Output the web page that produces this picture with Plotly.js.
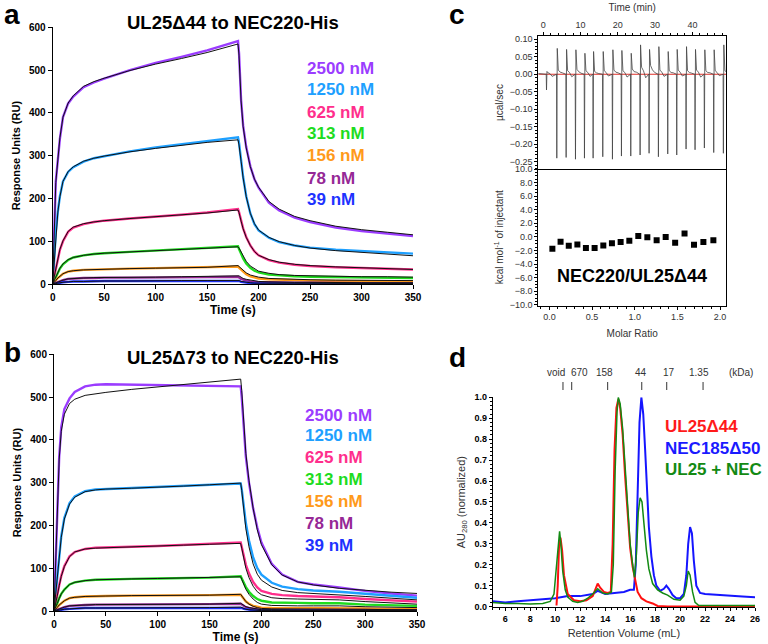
<!DOCTYPE html>
<html>
<head>
<meta charset="utf-8">
<script src="https://cdn.plot.ly/plotly-3.0.1.min.js"></script>
<style>
  body { margin: 0; background: #fff; }
  #fig { width: 768px; height: 644px; }
</style>
</head>
<body>
<div id="fig"></div>
<script>
// ---- SPR sensorgrams (panels a, b): common time grid, seconds ----
const T = [0, 1, 2, 3, 5, 7, 10, 15, 20, 30, 40, 50, 75, 100, 125, 150, 180, 181, 183, 185, 188, 192, 196, 200, 210, 220, 235, 250, 275, 300, 325, 350];

const concLabels = ['2500 nM', '1250 nM', '625 nM', '313 nM', '156 nM', '78 nM', '39 nM'];
const concColors = ['#9b3cff', '#1ea0ff', '#ff2e8c', '#1edc1e', '#ff9a1a', '#962896', '#1e32ff'];

// panel a: UL25d44 -> NEC220-His (measured, fit)
const a2500 = [0, 100, 180, 240, 290, 340, 390, 422, 438, 460, 471, 480, 500, 517, 531, 546, 568, 540, 430, 370, 320, 275, 245, 225, 190, 172, 155, 145, 132, 124, 118, 112];
const a2500fit = [0, 95, 175, 237, 290, 342, 390, 423, 440, 462, 473, 481, 499, 514, 527, 541, 561, 535, 428, 368, 318, 274, 245, 226, 193, 175, 158, 148, 135, 127, 121, 115];
const a1250 = [0, 40, 80, 120, 170, 205, 240, 262, 273, 286, 294, 299, 310, 319, 327, 334, 343, 330, 290, 250, 205, 165, 140, 125, 108, 98, 90, 85, 80, 77, 74, 71];
const a1250fit = [0, 38, 78, 118, 168, 204, 240, 263, 274, 287, 294, 299, 309, 317, 324, 331, 337, 325, 287, 248, 204, 165, 141, 126, 109, 99, 90, 84, 78, 74, 70, 66];
const a625 = [0, 12, 25, 38, 60, 80, 100, 122, 132, 140, 145, 148, 153, 157, 162, 167, 175, 168, 148, 130, 110, 90, 76, 67, 56, 50, 45, 42, 39, 37, 35, 34];
const a625fit = [0, 11, 24, 37, 60, 81, 101, 123, 133, 141, 145, 148, 153, 157, 161, 166, 173, 167, 147, 129, 109, 90, 76, 67, 57, 51, 46, 43, 40, 38, 36, 34];
const a313 = [0, 5, 10, 16, 26, 36, 46, 56, 62, 67, 70, 72, 75, 78, 81, 84, 88, 82, 70, 60, 48, 38, 31, 27, 22, 20, 18, 17, 16, 15, 15, 14];
const a313fit = [0, 5, 10, 16, 27, 37, 47, 57, 62, 67, 70, 72, 75, 78, 81, 84, 87, 84, 74, 64, 53, 42, 35, 30, 25, 22, 20, 19, 18, 17, 17, 16];
const a156 = [0, 2, 5, 8, 14, 19, 24, 29, 31, 33, 34, 35, 36, 37, 38, 39, 41, 38, 33, 28, 23, 18, 15, 13, 11, 10, 9, 8, 7, 7, 6, 6];
const a156fit = [0, 2, 5, 8, 14, 19, 24, 29, 31, 33, 34, 35, 36, 37, 38, 39, 43, 41, 36, 31, 26, 21, 18, 16, 13, 12, 11, 10, 9, 9, 8, 8];
const a78 = [0, 1, 2, 3, 5, 7, 9, 12, 13, 14, 14, 15, 15, 15, 16, 16, 17, 15, 12, 10, 8, 6, 5, 4, 4, 3, 3, 3, 2, 2, 2, 2];
const a78fit = [0, 1, 2, 3, 5, 7, 9, 12, 13, 14, 15, 15, 16, 16, 17, 18, 20, 19, 16, 13, 11, 9, 7, 6, 5, 4, 4, 4, 3, 3, 3, 3];
const a39 = [0, 0, 1, 1, 2, 3, 4, 5, 6, 6, 7, 7, 7, 7, 8, 8, 8, 7, 5, 4, 3, 2, 2, 1, 1, 1, 1, 1, 1, 0, 0, 0];
const a39fit = [0, 0, 1, 1, 2, 3, 4, 5, 6, 6, 7, 7, 7, 8, 8, 8, 9, 8, 6, 5, 4, 3, 2, 2, 1, 1, 1, 1, 1, 1, 1, 1];

// panel b: UL25d73 -> NEC220-His (measured, fit)
const b2500 = [0, 80, 160, 250, 360, 430, 472, 497, 512, 525, 529, 530, 529, 528, 527, 526, 525, 500, 420, 360, 300, 240, 195, 160, 110, 85, 68, 62, 55, 47, 41, 36];
const b2500fit = [0, 80, 160, 248, 355, 420, 460, 485, 495, 504, 508, 511, 518, 524, 530, 535, 542, 515, 430, 368, 305, 240, 190, 155, 108, 84, 68, 61, 53, 48, 44, 41];
const b1250 = [0, 25, 50, 76, 130, 175, 218, 252, 268, 280, 284, 285, 287, 289, 292, 295, 298, 285, 245, 205, 165, 125, 100, 85, 66, 57, 51, 48, 45, 40, 35, 31];
const b1250fit = [0, 24, 48, 74, 128, 172, 215, 250, 266, 279, 283, 285, 287, 289, 292, 295, 299, 282, 235, 192, 150, 110, 86, 72, 56, 48, 43, 41, 39, 34, 30, 26];
const b625 = [0, 10, 22, 35, 60, 82, 105, 128, 138, 145, 148, 149, 150, 152, 154, 156, 160, 150, 128, 108, 88, 68, 55, 47, 40, 37, 35, 34, 32, 28, 25, 22];
const b625fit = [0, 10, 21, 34, 59, 81, 104, 127, 138, 145, 147, 148, 150, 152, 154, 156, 158, 147, 122, 100, 78, 58, 45, 38, 31, 29, 28, 27, 26, 22, 19, 16];
const b313 = [0, 5, 11, 17, 30, 40, 50, 62, 67, 71, 73, 74, 75, 76, 77, 78, 81, 76, 66, 56, 45, 35, 28, 24, 20, 19, 19, 18, 18, 15, 13, 12];
const b313fit = [0, 5, 11, 17, 29, 40, 50, 62, 67, 71, 73, 74, 75, 76, 77, 78, 80, 74, 62, 51, 39, 28, 20, 16, 13, 12, 12, 12, 12, 10, 9, 8];
const b156 = [0, 2, 5, 8, 14, 19, 24, 30, 32, 34, 35, 35, 36, 36, 37, 37, 38, 35, 28, 22, 17, 12, 10, 8, 7, 7, 7, 7, 7, 6, 5, 5];
const b156fit = [0, 2, 5, 8, 14, 19, 24, 30, 32, 34, 35, 35, 36, 36, 37, 37, 39, 36, 29, 22, 16, 11, 8, 6, 5, 5, 5, 5, 4, 4, 3, 3];
const b78 = [0, 1, 2, 3, 5, 7, 9, 12, 13, 14, 15, 15, 15, 16, 16, 16, 17, 15, 12, 9, 7, 5, 4, 3, 3, 2, 2, 2, 2, 2, 2, 2];
const b78fit = [0, 1, 2, 3, 5, 7, 9, 12, 13, 14, 15, 15, 15, 16, 16, 16, 18, 16, 13, 10, 8, 6, 4, 3, 3, 2, 2, 2, 2, 2, 2, 2];
const b39 = [0, 0, 1, 1, 2, 3, 4, 5, 6, 7, 7, 7, 7, 8, 8, 8, 8, 7, 5, 4, 3, 2, 1, 1, 1, 1, 1, 1, 1, 1, 0, 0];
const b39fit = [0, 0, 1, 1, 2, 3, 4, 5, 6, 7, 7, 7, 8, 8, 8, 8, 9, 8, 6, 4, 3, 2, 2, 1, 1, 1, 1, 1, 1, 1, 1, 1];

// ---- ITC (panel c) ----
const injTime = [0.9, 3.66, 6.16, 8.66, 11.07, 13.39, 15.98, 18.57, 20.98, 23.48, 25.98, 28.39, 30.89, 33.39, 35.8, 38.3, 40.71, 43.21, 45.71, 48.3];
const injDown = [-0.045, -0.240, -0.238, -0.243, -0.240, -0.240, -0.236, -0.243, -0.234, -0.234, -0.231, -0.226, -0.236, -0.228, -0.231, -0.214, -0.216, -0.211, -0.224, -0.226];
const injUp = [0.008, 0.074, 0.071, 0.070, 0.060, 0.065, 0.065, 0.070, 0.068, 0.060, 0.084, 0.071, 0.079, 0.065, 0.071, 0.079, 0.071, 0.070, 0.070, 0.084];
const injTail = [0.004, 0.012, 0.010, 0.014, 0.010, 0.008, 0.010, 0.012, 0.010, 0.015, 0.020, 0.025, 0.012, 0.010, 0.012, 0.010, 0.012, 0.010, 0.010, 0.010];
const injGap = [-0.006, 0.004, -0.007, 0.003, -0.006, 0.002, -0.005, 0.004, -0.008, 0.006, -0.010, 0.005, -0.006, 0.004, -0.005, 0.003, -0.008, 0.004, -0.004, 0.002];

const molarRatio = [0.035, 0.131, 0.227, 0.328, 0.428, 0.53, 0.632, 0.733, 0.835, 0.937, 1.042, 1.148, 1.257, 1.363, 1.474, 1.584, 1.695, 1.805, 1.922];
const heatPerInj = [-1.75, -0.7, -1.3, -1.1, -1.65, -1.65, -1.25, -0.95, -0.75, -0.55, 0.15, -0.05, -0.5, 0.0, -0.85, 0.5, -1.15, -0.75, -0.5];

// ---- SEC (panel d) ----
const redVol = [10.1, 10.2, 10.3, 10.42, 10.55, 10.7, 11.0, 11.5, 12.0, 12.5, 13.0, 13.2, 13.4, 13.6, 13.9, 14.2, 14.45, 14.6, 14.75, 14.9, 15.05, 15.2, 15.4, 15.6, 15.8, 16.0, 16.2, 16.4, 16.6, 16.9, 17.3, 17.8, 18.2, 19, 26];
const redAU = [0.005, 0.1, 0.28, 0.33, 0.27, 0.15, 0.06, 0.03, 0.025, 0.03, 0.05, 0.08, 0.11, 0.09, 0.07, 0.065, 0.07, 0.3, 0.75, 0.95, 0.99, 0.95, 0.82, 0.62, 0.42, 0.28, 0.19, 0.12, 0.07, 0.04, 0.025, 0.015, 0.003, 0, 0];
const greenVol = [5, 6, 7, 8, 9, 9.6, 9.9, 10.1, 10.25, 10.35, 10.45, 10.6, 10.8, 11.0, 11.4, 11.8, 12.2, 12.6, 13.0, 13.4, 13.8, 14.2, 14.5, 14.65, 14.8, 14.95, 15.05, 15.2, 15.4, 15.6, 15.8, 16.0, 16.2, 16.35, 16.5, 16.65, 16.8, 16.95, 17.1, 17.3, 17.5, 17.8, 18.2, 18.6, 19.0, 19.5, 20.0, 20.3, 20.5, 20.65, 20.8, 21.0, 21.2, 21.5, 22, 24, 26];
const greenAU = [0.02, 0.015, 0.015, 0.012, 0.015, 0.025, 0.06, 0.2, 0.33, 0.36, 0.3, 0.17, 0.08, 0.045, 0.025, 0.02, 0.025, 0.04, 0.06, 0.085, 0.065, 0.06, 0.07, 0.2, 0.65, 0.93, 1.0, 0.97, 0.85, 0.65, 0.45, 0.3, 0.2, 0.14, 0.25, 0.45, 0.52, 0.5, 0.4, 0.27, 0.18, 0.11, 0.08, 0.065, 0.055, 0.035, 0.03, 0.05, 0.1, 0.17, 0.15, 0.07, 0.02, 0.005, 0.005, 0.005, 0.005];
const blueVol = [5, 6, 7, 8, 9, 10, 11, 12, 13, 13.4, 14, 15, 15.5, 16, 16.3, 16.45, 16.6, 16.75, 16.9, 17.05, 17.2, 17.35, 17.5, 17.7, 17.9, 18.1, 18.4, 18.7, 18.9, 19.1, 19.4, 19.7, 20.0, 20.3, 20.5, 20.65, 20.8, 20.95, 21.1, 21.3, 21.6, 22, 23, 24, 25, 26];
const blueAU = [0.025, 0.02, 0.025, 0.03, 0.035, 0.04, 0.05, 0.05, 0.06, 0.075, 0.06, 0.065, 0.07, 0.08, 0.08, 0.2, 0.6, 0.88, 1.0, 0.92, 0.75, 0.55, 0.38, 0.24, 0.15, 0.1, 0.075, 0.085, 0.1, 0.085, 0.055, 0.04, 0.04, 0.06, 0.15, 0.3, 0.38, 0.35, 0.22, 0.1, 0.065, 0.06, 0.055, 0.05, 0.048, 0.045];

const kdaTickVol = [10.62, 11.32, 14.2, 16.93, 18.93, 21.84];
const kdaLabels = ['void', '670', '158', '44', '17', '1.35', '(kDa)'];
const kdaLabelVol = [10.04, 11.91, 13.97, 16.85, 19.12, 21.52, 24.86];

// ---------------------------------------------------------------
const W = 768, H = 644;
const fx = px => px / W;
const fy = py => 1 - py / H;
const FONT = 'Arial, "Liberation Sans", sans-serif';

const traces = [];

function addSensorgrams(data, fits, xa, ya) {
    data.forEach((y, i) => {
        traces.push({ x: T, y: y, xaxis: xa, yaxis: ya, type: 'scatter', mode: 'lines',
            line: { color: concColors[i], width: 2.4 }, hoverinfo: 'skip' });
    });
    fits.forEach(y => {
        traces.push({ x: T, y: y, xaxis: xa, yaxis: ya, type: 'scatter', mode: 'lines',
            line: { color: '#111', width: 1 }, hoverinfo: 'skip' });
    });
}
addSensorgrams([a2500, a1250, a625, a313, a156, a78, a39],
    [a2500fit, a1250fit, a625fit, a313fit, a156fit, a78fit, a39fit], 'x', 'y');
addSensorgrams([b2500, b1250, b625, b313, b156, b78, b39],
    [b2500fit, b1250fit, b625fit, b313fit, b156fit, b78fit, b39fit], 'x2', 'y2');

// raw ITC trace built from the injection table
const itcX = [-1.3], itcY = [0.002];
injTime.forEach((t, i) => {
    itcX.push(t - 0.08, t, t + 0.12, t + 0.4, t + 0.9, t + 1.5);
    itcY.push(0, injDown[i], injUp[i], injTail[i], injTail[i] / 2, injGap[i]);
});
itcX.push(49); itcY.push(0);
traces.push({ x: [-1.3, 49], y: [0, 0], xaxis: 'x3', yaxis: 'y3', type: 'scatter', mode: 'lines',
    line: { color: '#e0302a', width: 1 }, hoverinfo: 'skip' });
traces.push({ x: itcX, y: itcY, xaxis: 'x3', yaxis: 'y3', type: 'scatter', mode: 'lines',
    line: { color: '#444', width: 0.8 }, hoverinfo: 'skip' });

traces.push({ x: molarRatio, y: heatPerInj, xaxis: 'x4', yaxis: 'y4', type: 'scatter', mode: 'markers',
    marker: { symbol: 'square', size: 6, color: '#000' }, hoverinfo: 'skip' });

// SEC traces
traces.push({ x: blueVol, y: blueAU, xaxis: 'x5', yaxis: 'y5', type: 'scatter', mode: 'lines',
    line: { color: '#1515ff', width: 2 }, hoverinfo: 'skip' });
traces.push({ x: redVol, y: redAU, xaxis: 'x5', yaxis: 'y5', type: 'scatter', mode: 'lines',
    line: { color: '#ff1010', width: 2 }, hoverinfo: 'skip' });
traces.push({ x: greenVol, y: greenAU, xaxis: 'x5', yaxis: 'y5', type: 'scatter', mode: 'lines',
    line: { color: '#138a13', width: 1.5 }, hoverinfo: 'skip' });

// axes
const sprAxis = {
    showline: true, linecolor: '#000', linewidth: 1, ticks: 'outside', ticklen: 4, tickcolor: '#000',
    showgrid: false, zeroline: false, tickfont: { family: FONT, size: 10, weight: 'bold', color: '#000' }
};
const itcAxis = {
    showline: true, linecolor: '#000', linewidth: 1, mirror: true, ticks: 'outside', ticklen: 3, tickcolor: '#000',
    showgrid: false, zeroline: false, tickfont: { family: FONT, size: 9, color: '#333' },
    minor: { ticks: 'outside', ticklen: 2, tickcolor: '#000' }
};
const secAxis = {
    showline: true, linecolor: '#000', linewidth: 1, ticks: 'outside', ticklen: 3, tickcolor: '#000',
    showgrid: false, zeroline: false, tickfont: { family: FONT, size: 9, weight: 'bold', color: '#000' },
    minor: { ticks: 'outside', ticklen: 2, tickcolor: '#000' }
};

const layout = {
    width: W, height: H,
    margin: { l: 0, r: 0, t: 0, b: 0 },
    paper_bgcolor: '#fff', plot_bgcolor: 'rgba(0,0,0,0)',
    showlegend: false,
    font: { family: FONT, color: '#000' },
    xaxis: Object.assign({}, sprAxis, { domain: [fx(52.7), fx(413)], range: [0, 350], dtick: 50, anchor: 'y',
        title: { text: 'Time (s)', font: { size: 12, weight: 'bold' }, standoff: 3 } }),
    yaxis: Object.assign({}, sprAxis, { domain: [fy(284), fy(27.3)], range: [0, 600], dtick: 100, anchor: 'x',
        title: { text: 'Response Units (RU)', font: { size: 11, weight: 'bold' }, standoff: 6 } }),
    xaxis2: Object.assign({}, sprAxis, { domain: [fx(54), fx(417)], range: [0, 350], dtick: 50, anchor: 'y2',
        title: { text: 'Time (s)', font: { size: 12, weight: 'bold' }, standoff: 3 } }),
    yaxis2: Object.assign({}, sprAxis, { domain: [fy(611), fy(354.3)], range: [0, 600], dtick: 100, anchor: 'x2',
        title: { text: 'Response Units (RU)', font: { size: 11, weight: 'bold' }, standoff: 6 } }),
    xaxis3: Object.assign({}, itcAxis, { domain: [fx(538.3), fx(726)], range: [-1.3, 49], dtick: 10, anchor: 'y3', side: 'top',
        title: { text: 'Time (min)', font: { size: 10, color: '#333' }, standoff: 6 } }),
    yaxis3: Object.assign({}, itcAxis, { domain: [fy(169), fy(36)], range: [-0.271, 0.1094], dtick: 0.05, tickformat: '.2f', anchor: 'x3',
        title: { text: 'µcal/sec', font: { size: 10, color: '#333' }, standoff: 4 } }),
    xaxis4: Object.assign({}, itcAxis, { domain: [fx(538.3), fx(726)], range: [-0.13, 2.07], dtick: 0.5, tickformat: '.1f', anchor: 'y4',
        mirror: false, title: { text: 'Molar Ratio', font: { size: 10, color: '#333' }, standoff: 8 } }),
    yaxis4: Object.assign({}, itcAxis, { domain: [fy(305.5), fy(169)], range: [-10.1, 10], dtick: 2, tickformat: '.1f', anchor: 'x4',
        title: { text: 'kcal mol<sup>-1</sup> of injectant', font: { size: 10, color: '#333' }, standoff: 4 } }),
    xaxis5: Object.assign({}, secAxis, { domain: [fx(492.8), fx(755)], range: [5, 26], tick0: 0, dtick: 2, anchor: 'y5',
        title: { text: 'Retention Volume (mL)', font: { size: 11, color: '#333' }, standoff: 6 } }),
    yaxis5: Object.assign({}, secAxis, { domain: [fy(607), fy(397.3)], range: [-0.002, 1.0], dtick: 0.1, tickformat: '.1f', anchor: 'x5',
        title: { text: 'AU<sub>280</sub> (normalized)', font: { size: 11, color: '#333' }, standoff: 6 } }),
    annotations: [],
    shapes: []
};

const ann = layout.annotations;
function label(text, x, y, size, color, extra) {
    ann.push(Object.assign({ text: text, x: fx(x), y: fy(y), xref: 'paper', yref: 'paper', showarrow: false,
        xanchor: 'left', yanchor: 'middle', font: { family: FONT, size: size, color: color, weight: 'bold' } }, extra || {}));
}

// panel letters
label('a', 2, 15, 28, '#000');
label('b', 2, 352, 28, '#000');
label('c', 447, 15, 28, '#000');
label('d', 447, 357, 28, '#000');

// sensorgram titles
label('UL25Δ44 to NEC220-His', 233, 22, 18.5, '#000', { xanchor: 'center' });
label('UL25Δ73 to NEC220-His', 233, 357, 18.5, '#000', { xanchor: 'center' });

// concentration legends
const legA = [69, 90, 112, 133, 155, 178, 200];
const legB = [415, 436, 457, 479, 501, 523, 545];
concLabels.forEach((t, i) => {
    label(t, 305, legA[i], 17, concColors[i]);
    label(t, 303, legB[i], 17, concColors[i]);
});

label('NEC220/UL25Δ44', 632, 276, 18, '#000', { xanchor: 'center' });

// SEC legend
label('UL25Δ44', 663, 427, 17, '#ff1a1a');
label('NEC185Δ50', 663, 448, 17, '#1a1aff');
label('UL25 + NEC', 663, 469, 17, '#138a13');

// SEC calibration markers
kdaLabels.forEach((t, i) => {
    ann.push({ text: t, x: kdaLabelVol[i], xref: 'x5', y: fy(373), yref: 'paper', showarrow: false,
        xanchor: 'center', yanchor: 'middle', font: { family: FONT, size: 10, color: '#333' } });
});
kdaTickVol.forEach(v => {
    layout.shapes.push({ type: 'line', xref: 'x5', yref: 'paper', x0: v, x1: v, y0: fy(390), y1: fy(382),
        line: { color: '#333', width: 1 } });
});

Plotly.newPlot('fig', traces, layout, { staticPlot: true });
</script>
</body>
</html>
